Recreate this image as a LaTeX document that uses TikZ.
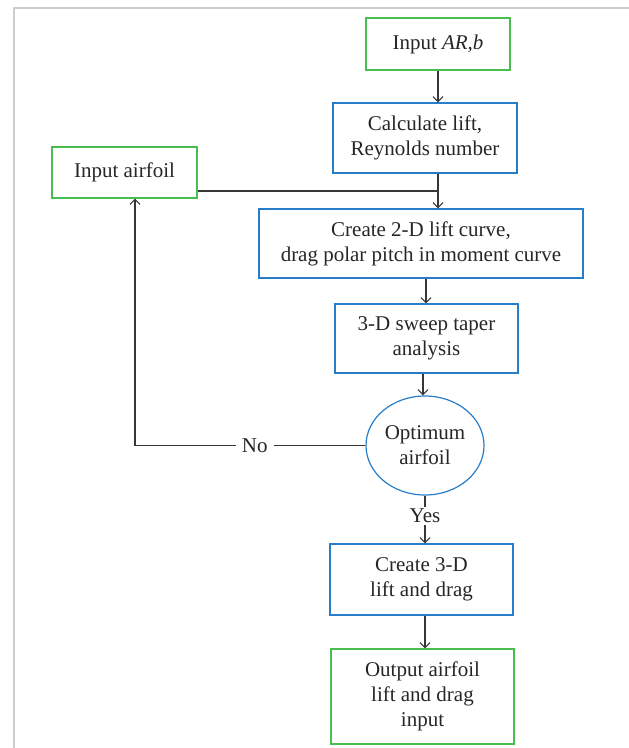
\documentclass[tikz,border=0pt]{standalone}
\usepackage{fontspec}
\setmainfont{Liberation Serif}
\usetikzlibrary{arrows.meta,shapes.geometric,calc}
\definecolor{boxgreen}{RGB}{72,190,80}
\definecolor{boxblue}{RGB}{40,125,200}
\definecolor{linegray}{RGB}{55,55,55}
\definecolor{framegray}{RGB}{205,205,205}
\begin{document}
\begin{tikzpicture}[x=1pt,y=-1pt,
  every node/.style={font=\fontsize{21}{25}\selectfont, text=black!85, align=center, inner sep=0pt},
  gbox/.style={draw=boxgreen, line width=1.2pt, rectangle},
  bbox/.style={draw=boxblue, line width=1.2pt, rectangle},
  conn/.style={draw=linegray, line width=1.2pt},
  arr/.style={conn, -{Straight Barb[length=5pt,width=10pt,line width=1.1pt]}},
  lbl/.style={fill=white, inner xsep=6pt, inner ysep=2pt}]
\useasboundingbox (0,0) rectangle (629,748);
\draw[framegray, line width=1.6pt] (14,748) -- (14,8) -- (629,8);

\node[gbox, minimum width=144pt, minimum height=52pt] (inAR) at (438,44) {Input \textit{AR,b}};
\node[bbox, minimum width=184pt, minimum height=70pt] (calc) at (425,138) {Calculate lift,\\Reynolds number};
\node[gbox, minimum width=145pt, minimum height=51pt] (inAF) at (124.5,172.5) {Input airfoil};
\node[bbox, minimum width=324pt, minimum height=69pt] (ctwo) at (421,243.5) {Create 2-D lift curve,\\drag polar pitch in moment curve};
\node[bbox, minimum width=183pt, minimum height=69pt] (sweep) at (426.5,338.5) {3-D sweep taper\\analysis};
\node[ellipse, draw=boxblue, line width=1.2pt, minimum width=118pt, minimum height=99pt] (opt) at (425,445.5) {Optimum\\airfoil};
\node[bbox, minimum width=183pt, minimum height=71pt] (cthree) at (421.5,579.5) {Create 3-D\\lift and drag};
\node[gbox, minimum width=183pt, minimum height=95pt] (out) at (422.5,696.5) {Output airfoil\\lift and drag\\input};

\coordinate (j) at (438,191);
\coordinate (nocorner) at (135,445.5);

\draw[arr] (inAR.south -| j) -- (calc.north -| j);
\draw[arr] (calc.south -| j) -- (ctwo.north -| j);
\draw[conn] (inAF.east |- j) -- (j);
\draw[arr] (ctwo.south -| 426,0) -- (sweep.north -| 426,0);
\draw[arr] (sweep.south -| 423,0) -- (opt.north -| 423,0);
\draw[arr] (opt.west) -- (nocorner) node[pos=0.48, lbl] {No} -- (inAF.south -| nocorner);
\draw[arr] (opt.south) -- (cthree.north -| opt.south) node[pos=0.42, lbl, inner xsep=2pt] {Yes};
\draw[arr] (cthree.south -| opt.south) -- (out.north -| opt.south);
\end{tikzpicture}
\end{document}
